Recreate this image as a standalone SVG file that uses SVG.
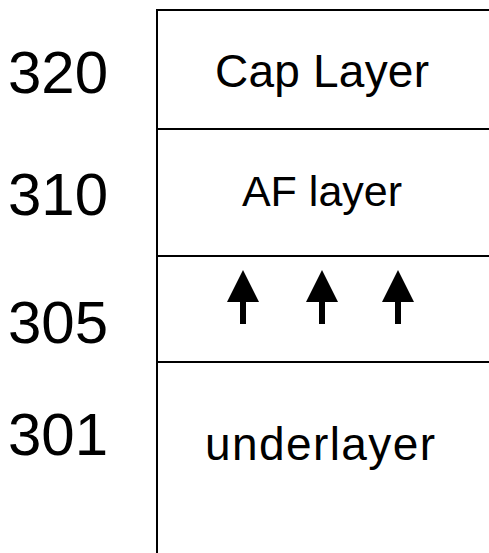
<svg xmlns="http://www.w3.org/2000/svg" width="489" height="553" viewBox="0 0 489 553">
<style>
.ln{stroke:#000;stroke-width:2;fill:none}
.num{font-family:"Liberation Sans",Arial,sans-serif;font-size:60px;fill:#000}
.lbl{font-family:"Liberation Sans",Arial,sans-serif;font-size:46px;fill:#000;text-anchor:middle}
</style>
<defs>
<g id="arr"><polygon points="0,-52 -16,-20 16,-20" fill="#000"/><rect x="-3" y="-22" width="6" height="24" fill="#000"/></g>
</defs>
<rect width="489" height="553" fill="#fff"/>
<g id="frame">
<line class="ln" x1="157" y1="10" x2="157" y2="553"/>
<line class="ln" x1="156" y1="10" x2="489" y2="10"/>
<line class="ln" x1="156" y1="129" x2="489" y2="129"/>
<line class="ln" x1="156" y1="256" x2="489" y2="256"/>
<line class="ln" x1="156" y1="362" x2="489" y2="362"/>
</g>
<g id="layer320"><text class="num" x="8" y="93">320</text><text class="lbl" x="322" y="87" textLength="214">Cap Layer</text></g>
<g id="layer310"><text class="num" x="8" y="215">310</text><text class="lbl" x="322" y="206" style="font-size:43px">AF layer</text></g>
<g id="layer305"><text class="num" x="8" y="343">305</text>
<use href="#arr" x="243" y="322"/><use href="#arr" x="322" y="322"/><use href="#arr" x="398" y="322"/></g>
<g id="layer301"><text class="num" x="8" y="455">301</text><text class="lbl" x="320" y="460" textLength="230">underlayer</text></g>
</svg>
